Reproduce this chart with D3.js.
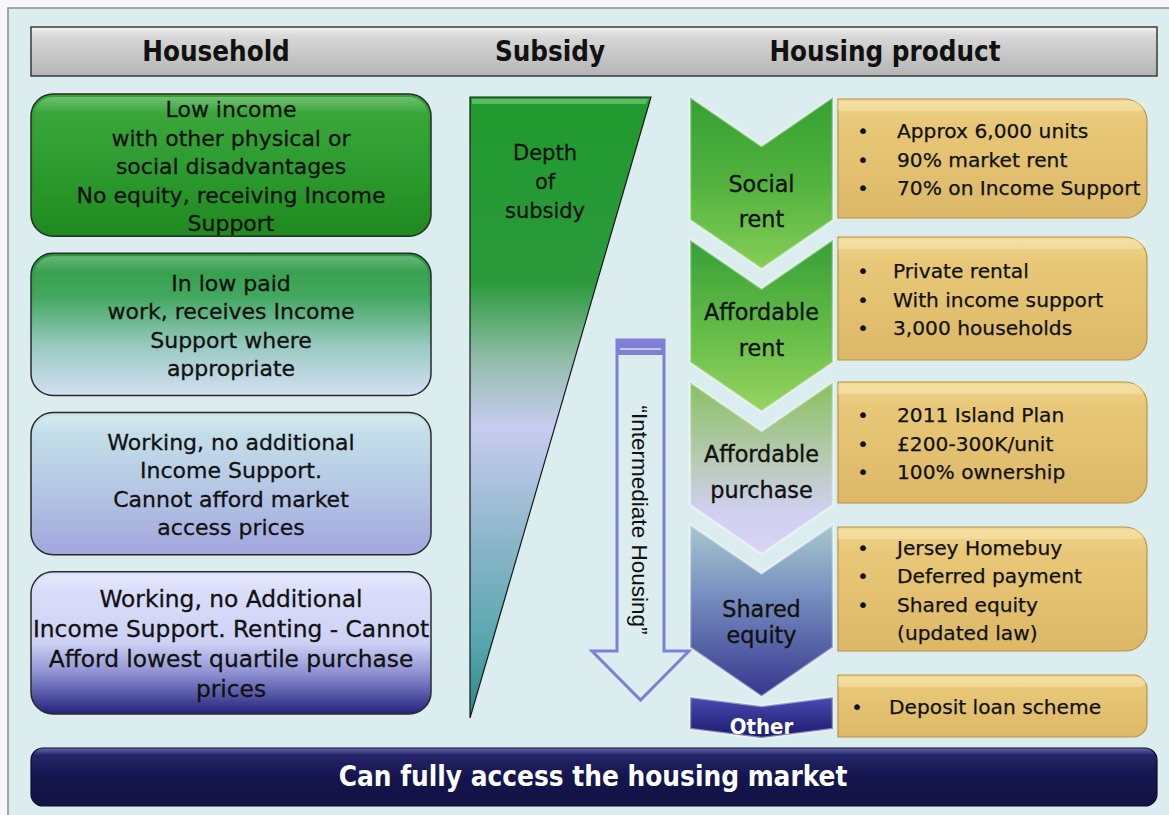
<!DOCTYPE html>
<html>
<head>
<meta charset="utf-8">
<script src="https://cdn.jsdelivr.net/npm/d3@7"></script>
<style>
  html, body { margin: 0; padding: 0; background: #f6f6fb; }
  svg { display: block; }
  text { font-family: "DejaVu Sans", sans-serif; }
  text.cond { font-family: "DejaVu Sans Condensed", "DejaVu Sans", sans-serif; font-stretch: condensed; }
</style>
</head>
<body>
<div id="chart"></div>
<script>
// Texts of the diagram
const headers = ["Household", "Subsidy", "Housing product"];

const households = [
  ["Low income", "with other physical or", "social disadvantages", "No equity, receiving Income", "Support"],
  ["In low paid", "work, receives Income", "Support where", "appropriate"],
  ["Working, no additional", "Income Support.", "Cannot afford market", "access prices"],
  ["Working, no Additional", "Income Support. Renting - Cannot", "Afford lowest quartile purchase", "prices"],
];

const subsidyLabel = ["Depth", "of", "subsidy"];
const intermediateLabel = "\u201CIntermediate Housing\u201D";

const products = [
  ["Social", "rent"],
  ["Affordable", "rent"],
  ["Affordable", "purchase"],
  ["Shared", "equity"],
  ["Other"],
];

const productNotes = [
  ["Approx 6,000 units", "90% market rent", "70% on Income Support"],
  ["Private rental", "With income support", "3,000 households"],
  ["2011 Island Plan", "\u00A3200-300K/unit", "100% ownership"],
  ["Jersey Homebuy", "Deferred payment", "Shared equity", "(updated law)"],
  ["Deposit loan scheme"],
];

const footer = "Can fully access the housing market";

// Layout
const W = 1169, H = 815;
const layout = {
  frame: { x: 8, y: 8 },
  header: { x: 31, y: 27, w: 1126, h: 49 },
  headerX: [216, 550, 885],
  house: { x: 31, w: 400, top: 94, bottom: 714 },
  tri: { x0: 470, x1: 651, top: 97, bottom: 718 },
  arrow: { x0: 617, x1: 664, top: 340, headY: 651, hx0: 592, hx1: 689, tip: 700 },
  chev: { x0: 690, x1: 833, top: 97, step: 142.5, side: 123, notch: 49 },
  other: { y0: 697, side: 32, notch: 9 },
  gold: { x: 838, w: 309 },
  goldRows: [[99, 119], [237, 123], [382, 121], [527, 124], [675, 62]],
  chevTextDy: [104, 90, 90, 97],
  chevLineH: [35, 36, 36, 26],
  foot: { x: 31, y: 748, w: 1126, h: 58 },
};

const svg = d3.select("#chart").append("svg").attr("width", W).attr("height", H);
const defs = svg.append("defs");

function grad(id, stops) {
  const g = defs.append("linearGradient").attr("id", id)
    .attr("x1", 0).attr("y1", 0).attr("x2", 0).attr("y2", 1);
  stops.forEach(([o, c, op]) => g.append("stop").attr("offset", o).attr("stop-color", c).attr("stop-opacity", op == null ? 1 : op));
  return `url(#${id})`;
}

const headerFill = grad("gHeader", [[0, "#f4f4f4"], [0.18, "#d8d8d8"], [0.6, "#c6c6c6"], [1, "#b4b4b4"]]);
const gloss = grad("gGloss", [[0, "#ffffff", 0.3], [0.12, "#ffffff", 0.05], [1, "#ffffff", 0]]);
const houseFills = [
  grad("gH0", [[0, "#32a432"], [0.5, "#28992a"], [1, "#1f8a1f"]]),
  grad("gH1", [[0, "#24963a"], [0.3, "#3aa458"], [0.65, "#96c8c0"], [1, "#d6e0f4"]]),
  grad("gH2", [[0, "#c6e4ea"], [0.5, "#b4c8e4"], [1, "#a2a6de"]]),
  grad("gH3", [[0, "#dde0fb"], [0.5, "#ccd0f4"], [0.72, "#8a8cd0"], [1, "#22227a"]]),
];
const triFill = grad("gTri", [[0, "#1f9a2e"], [0.3, "#2c9a3c"], [0.42, "#90bca8"], [0.53, "#c8ccf0"], [0.7, "#90b8cc"], [0.88, "#58a6ae"], [1, "#2a8686"]]);
const chevFills = [
  grad("gC0", [[0, "#34a032"], [0.5, "#52b23e"], [1, "#86ce58"]]),
  grad("gC1", [[0, "#36a036"], [0.5, "#62ba46"], [1, "#96d462"]]),
  grad("gC2", [[0, "#88c060"], [0.45, "#b8cab4"], [0.75, "#d0d0f0"], [1, "#d8d4f6"]]),
  grad("gC3", [[0, "#a8c8d0"], [0.4, "#7890c0"], [1, "#36368e"]]),
  grad("gC4", [[0, "#4a4ab2"], [1, "#1a1a6e"]]),
];
const goldFill = grad("gGold", [[0, "#f0d690"], [0.2, "#e8c878"], [1, "#dcb868"]]);
const footFill = grad("gFoot", [[0, "#6a6aa8"], [0.12, "#24246a"], [0.5, "#15154e"], [1, "#121244"]]);

// Frame
svg.append("rect")
  .attr("x", layout.frame.x).attr("y", layout.frame.y)
  .attr("width", W).attr("height", H)
  .attr("fill", "#dcedef").attr("stroke", "#8a8a8a").attr("stroke-width", 1.5);

// Header bar
const hd = layout.header;
svg.append("rect").attr("x", hd.x).attr("y", hd.y).attr("width", hd.w).attr("height", hd.h)
  .attr("fill", headerFill).attr("stroke", "#3a3a3a").attr("stroke-width", 1.5);
svg.selectAll(".hdr").data(headers).join("text").attr("class", "hdr cond")
  .attr("x", (d, i) => layout.headerX[i]).attr("y", hd.y + hd.h / 2).attr("dy", "0.36em")
  .attr("text-anchor", "middle").attr("font-size", 27.5).attr("font-weight", "bold").attr("fill", "#111")
  .text(d => d);

// Household boxes
const hy = d3.scaleBand().domain(d3.range(households.length))
  .range([layout.house.top, layout.house.bottom]).paddingInner(0.107);

const hg = svg.selectAll(".house").data(households).join("g").attr("class", "house");
hg.append("rect")
  .attr("x", layout.house.x).attr("y", (d, i) => hy(i))
  .attr("width", layout.house.w).attr("height", hy.bandwidth())
  .attr("rx", 22).attr("fill", (d, i) => houseFills[i])
  .attr("stroke", "#2a2a2a").attr("stroke-width", 1.5);
hg.append("rect")
  .attr("x", layout.house.x + 3).attr("y", (d, i) => hy(i) + 3)
  .attr("width", layout.house.w - 6).attr("height", hy.bandwidth() - 6)
  .attr("rx", 19).attr("fill", gloss);
hg.each(function (lines, i) {
  const lh = i === 3 ? 30 : 28.5;
  const cy = hy(i) + hy.bandwidth() / 2 + 1;
  d3.select(this).selectAll("text").data(lines).join("text")
    .attr("x", layout.house.x + layout.house.w / 2)
    .attr("y", (d, k) => cy + (k - (lines.length - 1) / 2) * lh)
    .attr("dy", "0.36em").attr("text-anchor", "middle")
    .attr("font-size", i === 3 ? 23.3 : 22).attr("fill", "#111")
    .attr("stroke", "#111").attr("stroke-width", 0.3)
    .text(d => d);
});

// Subsidy triangle
const t = layout.tri;
svg.append("path")
  .attr("d", d3.line()([[t.x0, t.top], [t.x1, t.top], [t.x0, t.bottom]]) + "Z")
  .attr("fill", triFill).attr("stroke", "#1a1a1a").attr("stroke-width", 1.2);
svg.append("path")
  .attr("d", d3.line()([[t.x0 + 2, t.top + 2], [t.x1 - 3, t.top + 2], [t.x1 - 5, t.top + 7], [t.x0 + 2, t.top + 7]]) + "Z")
  .attr("fill", "#8fe08f").attr("opacity", 0.5);
svg.selectAll(".sub").data(subsidyLabel).join("text").attr("class", "sub")
  .attr("x", 545).attr("y", (d, k) => 152 + k * 29).attr("dy", "0.36em")
  .attr("text-anchor", "middle").attr("font-size", 21).attr("fill", "#111")
  .attr("stroke", "#111").attr("stroke-width", 0.3).text(d => d);

// Intermediate housing arrow
const a = layout.arrow;
const mx = (a.hx0 + a.hx1) / 2;
svg.append("path")
  .attr("d", d3.line()([[a.x0, a.top], [a.x1, a.top], [a.x1, a.headY], [a.hx1, a.headY], [mx, a.tip], [a.hx0, a.headY], [a.x0, a.headY]]) + "Z")
  .attr("fill", "#dcedef").attr("stroke", "#7f7fd8").attr("stroke-width", 3);
svg.append("rect").attr("x", a.x0).attr("y", a.top).attr("width", a.x1 - a.x0).attr("height", 15)
  .attr("fill", "#7f7fd8");
svg.append("line").attr("x1", a.x0 + 3).attr("x2", a.x1 - 3).attr("y1", a.top + 9).attr("y2", a.top + 9)
  .attr("stroke", "#dcdcf6").attr("stroke-width", 1.5);
svg.append("text")
  .attr("transform", `translate(${(a.x0 + a.x1) / 2},${520}) rotate(90)`)
  .attr("dy", "0.36em").attr("text-anchor", "middle")
  .attr("font-size", 22.5).attr("fill", "#111")
  .style("font-family", "'Liberation Sans', Arial, sans-serif")
  .text(intermediateLabel);

// Chevrons
const c = layout.chev;
const cm = (c.x0 + c.x1) / 2;
const cy = d3.scaleLinear().domain([0, 1]).range([c.top, c.top + c.step]);
function chevron(y0, side, notch) {
  return d3.line()([[c.x0, y0], [cm, y0 + notch], [c.x1, y0], [c.x1, y0 + side], [cm, y0 + side + notch], [c.x0, y0 + side]]) + "Z";
}
const chevD = products.map((p, i) => i < 4
  ? chevron(cy(i), c.side, c.notch)
  : chevron(layout.other.y0, layout.other.side, layout.other.notch));

svg.selectAll(".chev").data(products).join("path").attr("class", "chev")
  .attr("d", (d, i) => chevD[i])
  .attr("fill", (d, i) => chevFills[i])
  .attr("stroke", "#ffffff").attr("stroke-opacity", 0.45).attr("stroke-width", 2.5)
  .attr("stroke-linejoin", "round");

products.forEach((lines, i) => {
  const mid = i < 4 ? cy(i) + layout.chevTextDy[i] : 726;
  const lh = i < 4 ? layout.chevLineH[i] : 0;
  svg.append("g").selectAll("text").data(lines).join("text")
    .attr("class", i < 4 ? null : "cond")
    .attr("x", cm).attr("y", (d, k) => mid + (k - (lines.length - 1) / 2) * lh)
    .attr("dy", "0.36em").attr("text-anchor", "middle")
    .attr("font-size", i < 4 ? 22.3 : 22)
    .attr("font-weight", i < 4 ? "normal" : "bold")
    .attr("fill", i < 4 ? "#111" : "#fff")
    .attr("stroke", i < 4 ? "#111" : "none").attr("stroke-width", 0.35)
    .text(d => d);
});

// Gold note boxes
const g = layout.gold;
function goldPath(y, h, r) {
  const x = g.x, w = g.w;
  return `M${x},${y}H${x + w - r}A${r},${r} 0 0 1 ${x + w},${y + r}V${y + h - r}A${r},${r} 0 0 1 ${x + w - r},${y + h}H${x}Z`;
}
const gg = svg.selectAll(".note").data(productNotes).join("g").attr("class", "note");
gg.append("path")
  .attr("d", (d, i) => goldPath(layout.goldRows[i][0], layout.goldRows[i][1], i === 4 ? 14 : 22))
  .attr("fill", goldFill).attr("stroke", "#b89440").attr("stroke-width", 1.2);
gg.append("path")
  .attr("d", (d, i) => goldPath(layout.goldRows[i][0] + 2, 10, 8))
  .attr("fill", "#fff4c8").attr("opacity", 0.35);
gg.each(function (lines, i) {
  const [y, h] = layout.goldRows[i];
  const mid = y + h / 2 + 1;
  const bx = i === 4 ? 851 : 857;
  const tx = i === 4 ? 889 : (i === 1 ? 893 : 897);
  const sel = d3.select(this);
  lines.forEach((line, k) => {
    const ly = mid + (k - (lines.length - 1) / 2) * 28.5;
    if (!(i === 3 && k === 3)) {
      sel.append("text").attr("x", bx).attr("y", ly).attr("dy", "0.36em")
        .attr("font-size", 20.2).attr("fill", "#111").text("\u2022");
    }
    sel.append("text").attr("x", tx).attr("y", ly).attr("dy", "0.36em")
      .attr("font-size", 20.2).attr("fill", "#111")
      .attr("stroke", "#111").attr("stroke-width", 0.25).text(line);
  });
});

// Footer bar
const f = layout.foot;
svg.append("rect").attr("x", f.x).attr("y", f.y).attr("width", f.w).attr("height", f.h)
  .attr("rx", 12).attr("fill", footFill).attr("stroke", "#0a0a30").attr("stroke-width", 1.2);
svg.append("text").attr("class", "cond").attr("x", 593).attr("y", f.y + f.h / 2 - 1).attr("dy", "0.36em")
  .attr("text-anchor", "middle").attr("font-size", 27.7).attr("font-weight", "bold").attr("fill", "#fff")
  .text(footer);
</script>
</body>
</html>
